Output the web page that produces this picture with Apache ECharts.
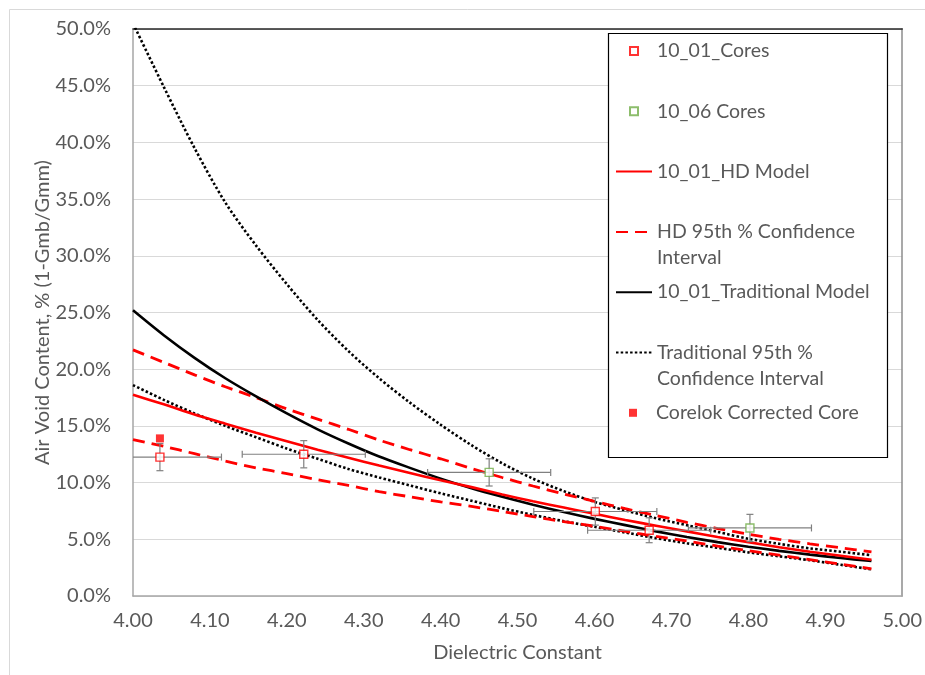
<!DOCTYPE html>
<html>
<head>
<meta charset="utf-8">
<script src="https://cdn.jsdelivr.net/npm/echarts@6/dist/echarts.min.js"></script>
<style>
  html, body { margin: 0; padding: 0; background: #fff; }
  #chart { width: 925px; height: 675px; }
</style>
</head>
<body>
<div id="chart"></div>
<script>
// Dielectric constant sample points for the model curves
const dielectric = [4.00, 4.04, 4.08, 4.12, 4.16, 4.20, 4.24, 4.28, 4.32, 4.36, 4.40, 4.44, 4.48,
                    4.52, 4.56, 4.60, 4.64, 4.68, 4.72, 4.76, 4.80, 4.84, 4.88, 4.92, 4.96];

// Air void content (%) of each model curve at the points above
const hdModel    = [17.75, 16.9, 16.0, 15.2, 14.4, 13.65, 12.9, 12.2, 11.5, 10.85, 10.2, 9.6, 8.95,
                    8.35, 7.8, 7.25, 6.7, 6.2, 5.7, 5.2, 4.75, 4.3, 3.9, 3.55, 3.2];
const hdUpper    = [21.7, 20.6, 19.5, 18.45, 17.5, 16.5, 15.6, 14.7, 13.75, 12.9, 12.1, 11.25, 10.45,
                    9.7, 9.0, 8.35, 7.7, 7.1, 6.5, 5.95, 5.45, 5.0, 4.6, 4.25, 3.9];
const hdLower    = [13.8, 13.2, 12.55, 11.9, 11.3, 10.8, 10.25, 9.75, 9.2, 8.75, 8.3, 7.9, 7.45,
                    7.0, 6.55, 6.15, 5.7, 5.25, 4.85, 4.4, 4.0, 3.6, 3.2, 2.8, 2.4];
const tradModel  = [25.2, 23.0, 21.0, 19.2, 17.6, 16.1, 14.7, 13.45, 12.3, 11.3, 10.35, 9.5, 8.75,
                    8.05, 7.4, 6.8, 6.25, 5.7, 5.2, 4.75, 4.35, 3.98, 3.65, 3.35, 3.08];
const tradUpper  = [50.5, 44.9, 39.5, 34.7, 30.9, 27.5, 24.35, 21.6, 19.2, 17.05, 15.1, 13.3, 11.7,
                    10.35, 9.25, 8.3, 7.55, 6.85, 6.25, 5.65, 5.05, 4.6, 4.2, 3.9, 3.6];
const tradLower  = [18.6, 17.3, 16.1, 15.0, 14.0, 13.0, 12.1, 11.2, 10.45, 9.75, 9.05, 8.4, 7.75,
                    7.15, 6.6, 6.1, 5.6, 5.1, 4.65, 4.25, 3.85, 3.5, 3.15, 2.75, 2.35];

// Core measurements: dielectric, air voids (%), and their error half-widths
const cores1001X    = [4.035, 4.222, 4.601, 4.671];
const cores1001Y    = [12.25, 12.5, 7.45, 5.8];
const cores1001XErr = [0.08, 0.08, 0.08, 0.08];
const cores1001YErr = [1.2, 1.2, 1.2, 1.1];

const cores1006X    = [4.463, 4.802];
const cores1006Y    = [10.9, 6.0];
const cores1006XErr = [0.08, 0.08];
const cores1006YErr = [1.2, 1.2];

const corelokX = [4.035];
const corelokY = [13.9];

// Legend entries, top to bottom
const legendNames = [
  '10_01_Cores',
  '10_06 Cores',
  '10_01_HD Model',
  'HD 95th % Confidence Interval',
  '10_01_Traditional Model',
  'Traditional 95th % Confidence Interval',
  'Corelok Corrected Core'
];
const legendLabels = [
  '10_01_Cores',
  '10_06 Cores',
  '10_01_HD Model',
  'HD 95th % Confidence\nInterval',
  '10_01_Traditional Model',
  'Traditional 95th %\nConfidence Interval',
  'Corelok Corrected Core'
];
const markerEntries = ['10_01_Cores', '10_06 Cores', 'Corelok Corrected Core'];

const FONT = 'Lato, "Open Sans", sans-serif';
const TEXT_GREY = '#595959';
const SQUARE_ICON = 'path://M0,0H10V10H0Z';

const zip2 = (xs, ys) => xs.map((x, i) => [x, ys[i]]);
const zip4 = (xs, ys, ex, ey) => xs.map((x, i) => [x, ys[i], ex[i], ey[i]]);

// Cross-shaped error bars with end caps, clipped to the plot area
function renderErrorBars(params, api) {
  const x = api.value(0), y = api.value(1), ex = api.value(2), ey = api.value(3);
  const cs = params.coordSys;
  const c = api.coord([x, y]);
  const rawLeft = api.coord([x - ex, y])[0];
  const rawRight = api.coord([x + ex, y])[0];
  const left = Math.max(rawLeft, cs.x);
  const right = Math.min(rawRight, cs.x + cs.width);
  const top = api.coord([x, y + ey])[1];
  const bottom = api.coord([x, y - ey])[1];
  const cap = 3.5;
  const style = { stroke: '#808080', lineWidth: 1.2, fill: null };
  const children = [
    { type: 'line', shape: { x1: left, y1: c[1], x2: right, y2: c[1] }, style },
    { type: 'line', shape: { x1: c[0], y1: top, x2: c[0], y2: bottom }, style },
    { type: 'line', shape: { x1: c[0] - cap, y1: top, x2: c[0] + cap, y2: top }, style },
    { type: 'line', shape: { x1: c[0] - cap, y1: bottom, x2: c[0] + cap, y2: bottom }, style }
  ];
  if (rawLeft >= cs.x) {
    children.push({ type: 'line', shape: { x1: left, y1: c[1] - cap, x2: left, y2: c[1] + cap }, style });
  }
  if (rawRight <= cs.x + cs.width) {
    children.push({ type: 'line', shape: { x1: right, y1: c[1] - cap, x2: right, y2: c[1] + cap }, style });
  }
  return { type: 'group', children };
}

function curve(name, values, color, width, type) {
  return {
    name,
    type: 'line',
    data: zip2(dielectric, values),
    smooth: 0.3,
    symbol: 'none',
    clip: true,
    z: 3,
    lineStyle: { color, width, type, cap: 'butt' },
    itemStyle: { color },
    emphasis: { disabled: true }
  };
}

const DOTS = [2.5, 2.2];
const DASHES = [12, 7];

const series = [
  {
    name: 'err1001',
    type: 'custom',
    renderItem: renderErrorBars,
    data: zip4(cores1001X, cores1001Y, cores1001XErr, cores1001YErr),
    encode: { x: 0, y: 1 },
    z: 4
  },
  {
    name: 'err1006',
    type: 'custom',
    renderItem: renderErrorBars,
    data: zip4(cores1006X, cores1006Y, cores1006XErr, cores1006YErr),
    encode: { x: 0, y: 1 },
    z: 4
  },
  curve('Traditional 95th % Confidence Interval', tradUpper, '#000000', 2.6, DOTS),
  curve('Traditional 95th % Confidence Interval', tradLower, '#000000', 2.6, DOTS),
  curve('HD 95th % Confidence Interval', hdUpper, '#ff0000', 2.8, DASHES),
  curve('HD 95th % Confidence Interval', hdLower, '#ff0000', 2.8, DASHES),
  curve('10_01_Traditional Model', tradModel, '#000000', 2.6, 'solid'),
  curve('10_01_HD Model', hdModel, '#ff0000', 2.6, 'solid'),
  {
    name: '10_01_Cores',
    type: 'scatter',
    data: zip2(cores1001X, cores1001Y),
    symbol: 'rect',
    symbolSize: 8,
    z: 6,
    itemStyle: { color: '#ffffff', borderColor: '#ff0000', borderWidth: 1.4 },
    emphasis: { disabled: true }
  },
  {
    name: '10_06 Cores',
    type: 'scatter',
    data: zip2(cores1006X, cores1006Y),
    symbol: 'rect',
    symbolSize: 8,
    z: 6,
    itemStyle: { color: '#ffffff', borderColor: '#70ad47', borderWidth: 1.4 },
    emphasis: { disabled: true }
  },
  {
    name: 'Corelok Corrected Core',
    type: 'scatter',
    data: zip2(corelokX, corelokY),
    symbol: 'rect',
    symbolSize: 8,
    z: 6,
    itemStyle: { color: '#ff0000' },
    emphasis: { disabled: true }
  }
];

// One legend block per entry so each first text line sits level with its key.
// Two-line labels get a blank leading line so the key lines up with the first text line.
const legendFirstLine = 51;
const legendStep = 60.3;
const legendLineHeight = 26;
const legendLeft = 615;
const markerShift = 14;
const legends = legendNames.map((name, i) => {
  const twoLines = legendLabels[i].indexOf('\n') >= 0;
  const center = legendFirstLine + legendStep * i;
  const isMarker = markerEntries.indexOf(name) >= 0;
  const entry = {
    data: [name],
    orient: 'vertical',
    left: isMarker ? legendLeft + markerShift : legendLeft,
    top: center - (twoLines ? legendLineHeight * 1.5 : legendLineHeight / 2),
    padding: 0,
    itemWidth: 36,
    itemHeight: isMarker ? 8 : 14,
    selectedMode: false,
    z: 10,
    formatter: () => (twoLines ? '\n' : '') + legendLabels[i],
    textStyle: {
      fontFamily: FONT,
      fontSize: 19.5,
      color: TEXT_GREY,
      lineHeight: legendLineHeight
    }
  };
  if (isMarker) {
    entry.icon = SQUARE_ICON;
    entry.symbolKeepAspect = true;
  } else {
    entry.itemStyle = { opacity: 0, color: 'rgba(0,0,0,0)', borderWidth: 0 };
  }
  return entry;
});

const chart = echarts.init(document.getElementById('chart'), null, { renderer: 'canvas' });
chart.setOption({
  animation: false,
  backgroundColor: '#ffffff',
  grid: { left: 133, right: 22, top: 29, bottom: 79, containLabel: false },
  xAxis: [
    {
      type: 'value',
      min: 4.0,
      max: 5.0,
      interval: 0.1,
      name: 'Dielectric Constant',
      nameLocation: 'middle',
      nameGap: 47,
      nameMoveOverlap: false,
      nameTextStyle: { fontFamily: FONT, fontSize: 20, color: TEXT_GREY },
      axisLine: { show: true, lineStyle: { color: '#a6a6a6', width: 1.5 } },
      axisTick: { show: false },
      splitLine: { show: false },
      axisLabel: {
        margin: 15,
        fontFamily: FONT,
        fontSize: 20,
        color: TEXT_GREY,
        formatter: v => v.toFixed(2)
      }
    },
    {
      type: 'value',
      position: 'top',
      min: 4.0,
      max: 5.0,
      axisLine: { show: true, onZero: false, lineStyle: { color: '#262626', width: 1.5 } },
      axisTick: { show: false },
      axisLabel: { show: false },
      splitLine: { show: false }
    }
  ],
  yAxis: [
    {
      type: 'value',
      min: 0,
      max: 50,
      interval: 5,
      name: 'Air Void Content, % (1-Gmb/Gmm)',
      nameLocation: 'middle',
      nameGap: 80,
      nameMoveOverlap: false,
      nameTextStyle: { fontFamily: FONT, fontSize: 20, color: TEXT_GREY },
      axisLine: { show: true, lineStyle: { color: '#a6a6a6', width: 1.5 } },
      axisTick: { show: false },
      splitLine: { show: true, lineStyle: { color: '#d9d9d9', width: 1.2 } },
      axisLabel: {
        margin: 22,
        fontFamily: FONT,
        fontSize: 20,
        color: TEXT_GREY,
        formatter: v => v.toFixed(1) + '%'
      }
    },
    {
      type: 'value',
      position: 'right',
      min: 0,
      max: 50,
      axisLine: { show: true, onZero: false, lineStyle: { color: '#8c8c8c', width: 1.5 } },
      axisTick: { show: false },
      axisLabel: { show: false },
      splitLine: { show: false }
    }
  ],
  legend: legends,
  graphic: [
    {
      type: 'polyline',
      z: 1,
      shape: { points: [[9.5, 675], [9.5, 9.5], [925, 9.5]] },
      style: { stroke: '#d9d9d9', lineWidth: 1, fill: null }
    },
    {
      type: 'rect',
      z: 5,
      shape: { x: 608.5, y: 33.5, width: 279, height: 424 },
      style: { fill: '#ffffff', stroke: '#000000', lineWidth: 1.2 }
    }
  ],
  series
});
</script>
</body>
</html>
